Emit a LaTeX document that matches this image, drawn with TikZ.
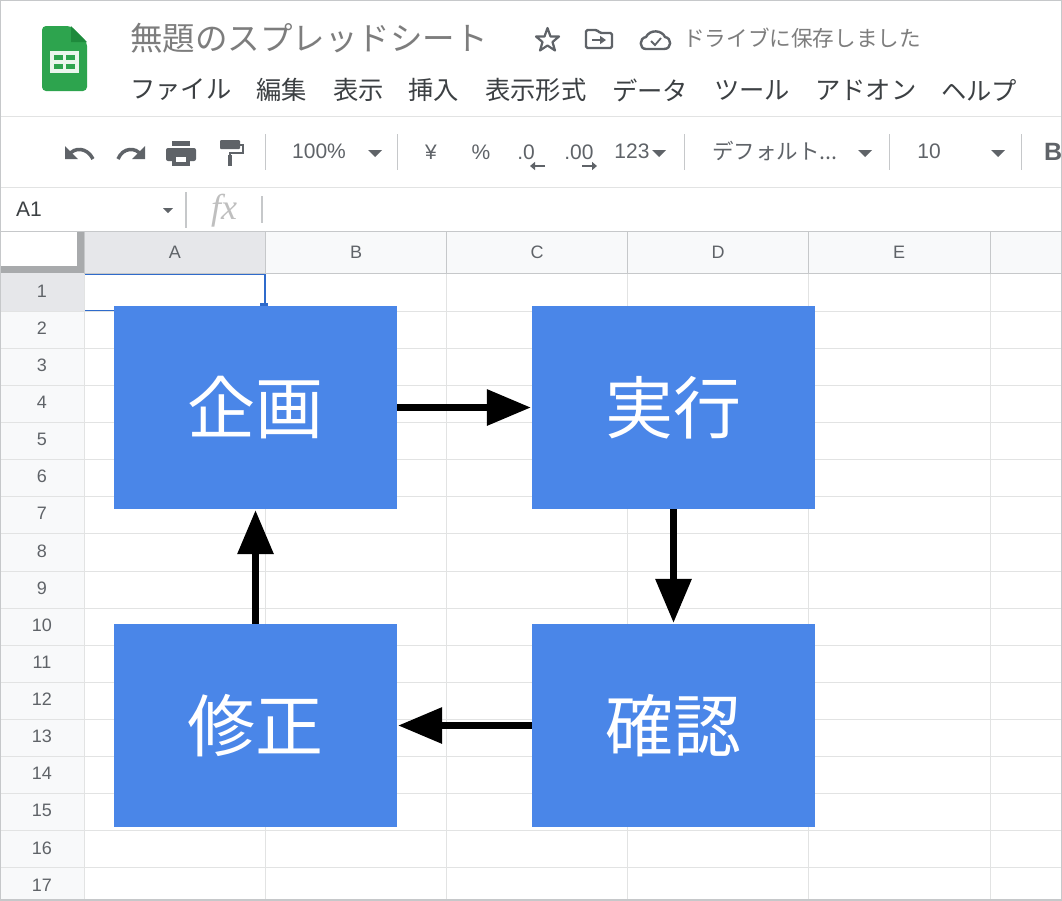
\documentclass[tikz,border=0pt]{standalone}
\usepackage{fontspec}
\setmainfont{Liberation Sans}
\newfontfamily\jpfont{Noto Sans CJK JP}
\newfontfamily\fxfont{Liberation Serif}
\usetikzlibrary{arrows.meta}
\definecolor{boxblue}{HTML}{4A86E8}
\definecolor{sheetgreen}{HTML}{2DA44E}
\definecolor{foldgreen}{HTML}{1E8A3C}
\definecolor{gridline}{HTML}{E2E3E3}
\definecolor{headline}{HTML}{C6C8CA}
\definecolor{headfill}{HTML}{F8F9FA}
\definecolor{headsel}{HTML}{E6E7EA}
\definecolor{icongray}{HTML}{5F6368}
\definecolor{titlegray}{HTML}{7D7D7D}
\definecolor{menugray}{HTML}{3C4043}
\definecolor{selblue}{HTML}{2F6BCB}
\tikzset{
    stepbox/.style={fill=boxblue, text=white, minimum width=283pt, minimum height=203pt,
        inner sep=0pt, font=\jpfont\fontsize{68}{68}\selectfont},
    flow/.style={line width=6.5pt, black, -{Triangle[length=44pt, width=35pt]}, shorten >=1pt},
    menutext/.style={anchor=west, inner sep=0pt, text=menugray, font=\jpfont\fontsize{25.3}{25}\selectfont},
    tooltext/.style={inner sep=0pt, text=icongray, font=\fontsize{21}{21}\selectfont},
    headtext/.style={inner sep=0pt, text=icongray, font=\fontsize{18}{18}\selectfont},
    toolsep/.style={headline, line width=1pt},
    dropdown/.style={fill=icongray, draw=none}
}
\begin{document}
\begin{tikzpicture}[x=1pt, y=-1pt]
    \useasboundingbox (0,0) rectangle (1062,900);
    \fill [white] (0,0) rectangle (1062,900);

    % header fills
    \fill [headfill] (84,232) rectangle (1062,273);
    \fill [headfill] (0,273) rectangle (84,900);
    \fill [headsel] (84,232) rectangle (265,273);
    \fill [headsel] (0,273) rectangle (84,311);

    % grid
    \foreach \x in {84,265,446,627,808,990} {
        \draw [gridline] (\x,273) -- (\x,900);
        \draw [headline] (\x,232) -- (\x,273);
    }
    \foreach \r in {0,...,16} {
        \draw [gridline] (0,311+37.1*\r) -- (1062,311+37.1*\r);
    }
    \foreach \r in {1,...,17} {
        \node [headtext] (row\r) at (42,291+37.12*\r-37.12) {\r};
    }
    \node [headtext] (colA) at (175,252) {A};
    \node [headtext] (colB) at (356,252) {B};
    \node [headtext] (colC) at (537,252) {C};
    \node [headtext] (colD) at (718,252) {D};
    \node [headtext] (colE) at (899,252) {E};

    % bars between the regions
    \draw [gridline, line width=1pt] (0,116.5) -- (1062,116.5);
    \draw [gridline, line width=1pt] (0,187.5) -- (1062,187.5);
    \draw [headline, line width=1pt] (0,231) -- (1062,231);
    \draw [headline, line width=1pt] (84,273.5) -- (1062,273.5);
    \fill [headline!85!black] (77,232) rectangle (84,273);
    \fill [headline!85!black] (0,266) rectangle (84,273);
    \draw [selblue, line width=1.5pt] (85,274.5) -- (265,274.5) -- (265,306);
    \draw [selblue, line width=1.5pt] (85,310.5) -- (114,310.5);
    \fill [selblue] (260,303) rectangle (268,306);

    % logo
    \fill [sheetgreen, rounded corners=4pt] (42,26) -- (71,26) -- (87,42) -- (87,91) -- (42,91) -- cycle;
    \fill [foldgreen] (71,26) -- (87,42) -- (71,42) -- cycle;
    \fill [white!90!sheetgreen] (50,51) rectangle (79,73);
    \fill [sheetgreen] (54,55) rectangle (63,60);
    \fill [sheetgreen] (66,55) rectangle (75,60);
    \fill [sheetgreen] (54,64) rectangle (63,69);
    \fill [sheetgreen] (66,64) rectangle (75,69);

    % title row
    \node [anchor=west, inner sep=0pt, text=titlegray, font=\jpfont\fontsize{32.5}{32}\selectfont] (title) at (130,38) {無題のスプレッドシート};
    \draw [icongray, line width=2.2pt, line join=round] (547.5,28)
        -- (550.5,36.5) -- (559,36.5) -- (552.5,42) -- (555,50.5) -- (547.5,45.5)
        -- (540,50.5) -- (542.5,42) -- (536,36.5) -- (544.5,36.5) -- cycle;
    \draw [icongray, line width=2.4pt, rounded corners=1.5pt] (586,30) -- (597,30) -- (600,33) -- (612,33)
        -- (612,48) -- (586,48) -- cycle;
    \draw [icongray, line width=2pt, -{Triangle[length=6pt, width=8pt]}] (592,40) -- (606,40);
    \draw [icongray, line width=2.4pt, line join=round] (646,49) .. controls (639,49) and (639,38) .. (646,37)
        .. controls (650,29) and (662,30) .. (665,37) .. controls (672,38) and (672,49) .. (664,49) -- cycle;
    \draw [icongray, line width=1.8pt] (651,41) -- (655,45) -- (661,38);
    \node [anchor=west, inner sep=0pt, text=titlegray, font=\jpfont\fontsize{21.6}{21}\selectfont] (saved) at (683,38) {ドライブに保存しました};

    % menu row
    \node [menutext] (menuFile) at (130,90) {ファイル};
    \node [menutext] (menuEdit) at (256,90) {編集};
    \node [menutext] (menuView) at (333,90) {表示};
    \node [menutext] (menuIns) at (408,90) {挿入};
    \node [menutext] (menuFmt) at (485,90) {表示形式};
    \node [menutext] (menuData) at (612,90) {データ};
    \node [menutext] (menuTool) at (714,90) {ツール};
    \node [menutext] (menuAdd) at (815,90) {アドオン};
    \node [menutext] (menuHelp) at (941,90) {ヘルプ};

    % toolbar icons
    \draw [icongray, line width=3.5pt] (69,155) .. controls (74,147) and (87,147) .. (93,159);
    \fill [icongray] (65,146) -- (65,159) -- (78,159) -- cycle;
    \draw [icongray, line width=3.5pt] (141,155) .. controls (136,147) and (123,147) .. (118,159);
    \fill [icongray] (145,146) -- (145,159) -- (132,159) -- cycle;
    \fill [icongray] (172,141) rectangle (190,146);
    \fill [icongray, rounded corners=2pt] (166,148) rectangle (196,161);
    \fill [icongray] (172,158) rectangle (190,166);
    \fill [white] (176,157) rectangle (186,162);
    \fill [icongray, rounded corners=1pt] (220,140) rectangle (240,149);
    \draw [icongray, line width=2pt] (240,145) -- (243,145) -- (243,153) -- (230,153) -- (230,156);
    \fill [icongray] (228,155) rectangle (232,166);
    \draw [toolsep] (265,134) -- (265,170);
    \node [tooltext] (zoomval) at (319,151) {100\%};
    \fill [dropdown] (368,150) -- (382,150) -- (375,157) -- cycle;
    \draw [toolsep] (397,134) -- (397,170);
    \node [tooltext] (yen) at (431,152) {¥};
    \node [tooltext] (pct) at (481,152) {\%};
    \node [tooltext] (decless) at (526,152) {.0};
    \draw [icongray, line width=2pt, -{Triangle[length=5pt, width=8pt]}] (545,166) -- (530,166);
    \node [tooltext] (decmore) at (579,152) {.00};
    \draw [icongray, line width=2pt, -{Triangle[length=5pt, width=8pt]}] (582,166) -- (597,166);
    \node [tooltext] (fmtnum) at (632,151) {123};
    \fill [dropdown] (652,150) -- (666,150) -- (659,157) -- cycle;
    \draw [toolsep] (684,134) -- (684,170);
    \node [anchor=west, inner sep=0pt, text=icongray, font=\jpfont\fontsize{21.5}{21}\selectfont] (fontname) at (712,151) {デフォルト...};
    \fill [dropdown] (858,150) -- (872,150) -- (865,157) -- cycle;
    \draw [toolsep] (889,134) -- (889,170);
    \node [tooltext] (fontsz) at (929,151) {10};
    \fill [dropdown] (991,150) -- (1005,150) -- (998,157) -- cycle;
    \draw [toolsep] (1021,134) -- (1021,170);
    \node [anchor=west, inner sep=0pt, text=icongray, font=\bfseries\fontsize{25}{25}\selectfont] (boldB) at (1044,152) {B};

    % formula bar
    \node [anchor=west, inner sep=0pt, text=menugray, font=\fontsize{21}{21}\selectfont] (cellref) at (16,209) {A1};
    \fill [dropdown] (163,208) -- (173,208) -- (168,213) -- cycle;
    \draw [toolsep, line width=1.5pt] (186,192) -- (186,228);
    \node [inner sep=0pt, text=black!25, font=\fxfont\itshape\fontsize{36}{36}\selectfont] (fxmark) at (224,211) {fx};
    \draw [toolsep, line width=1.5pt] (262,196) -- (262,223);

    % steps
    \node [stepbox] (plan) at (255.5,407.5) {企画};
    \node [stepbox] (run) at (673.5,407.5) {実行};
    \node [stepbox] (check) at (673.5,725.5) {確認};
    \node [stepbox] (fix) at (255.5,725.5) {修正};
    \draw [flow] (plan) -- (run);
    \draw [flow] (run) -- (check);
    \draw [flow] (check) -- (fix);
    \draw [flow] (fix) -- (plan);

    % outer frame
    \draw [headline, line width=2pt] (0,0) rectangle (1062,900);
\end{tikzpicture}
\end{document}
